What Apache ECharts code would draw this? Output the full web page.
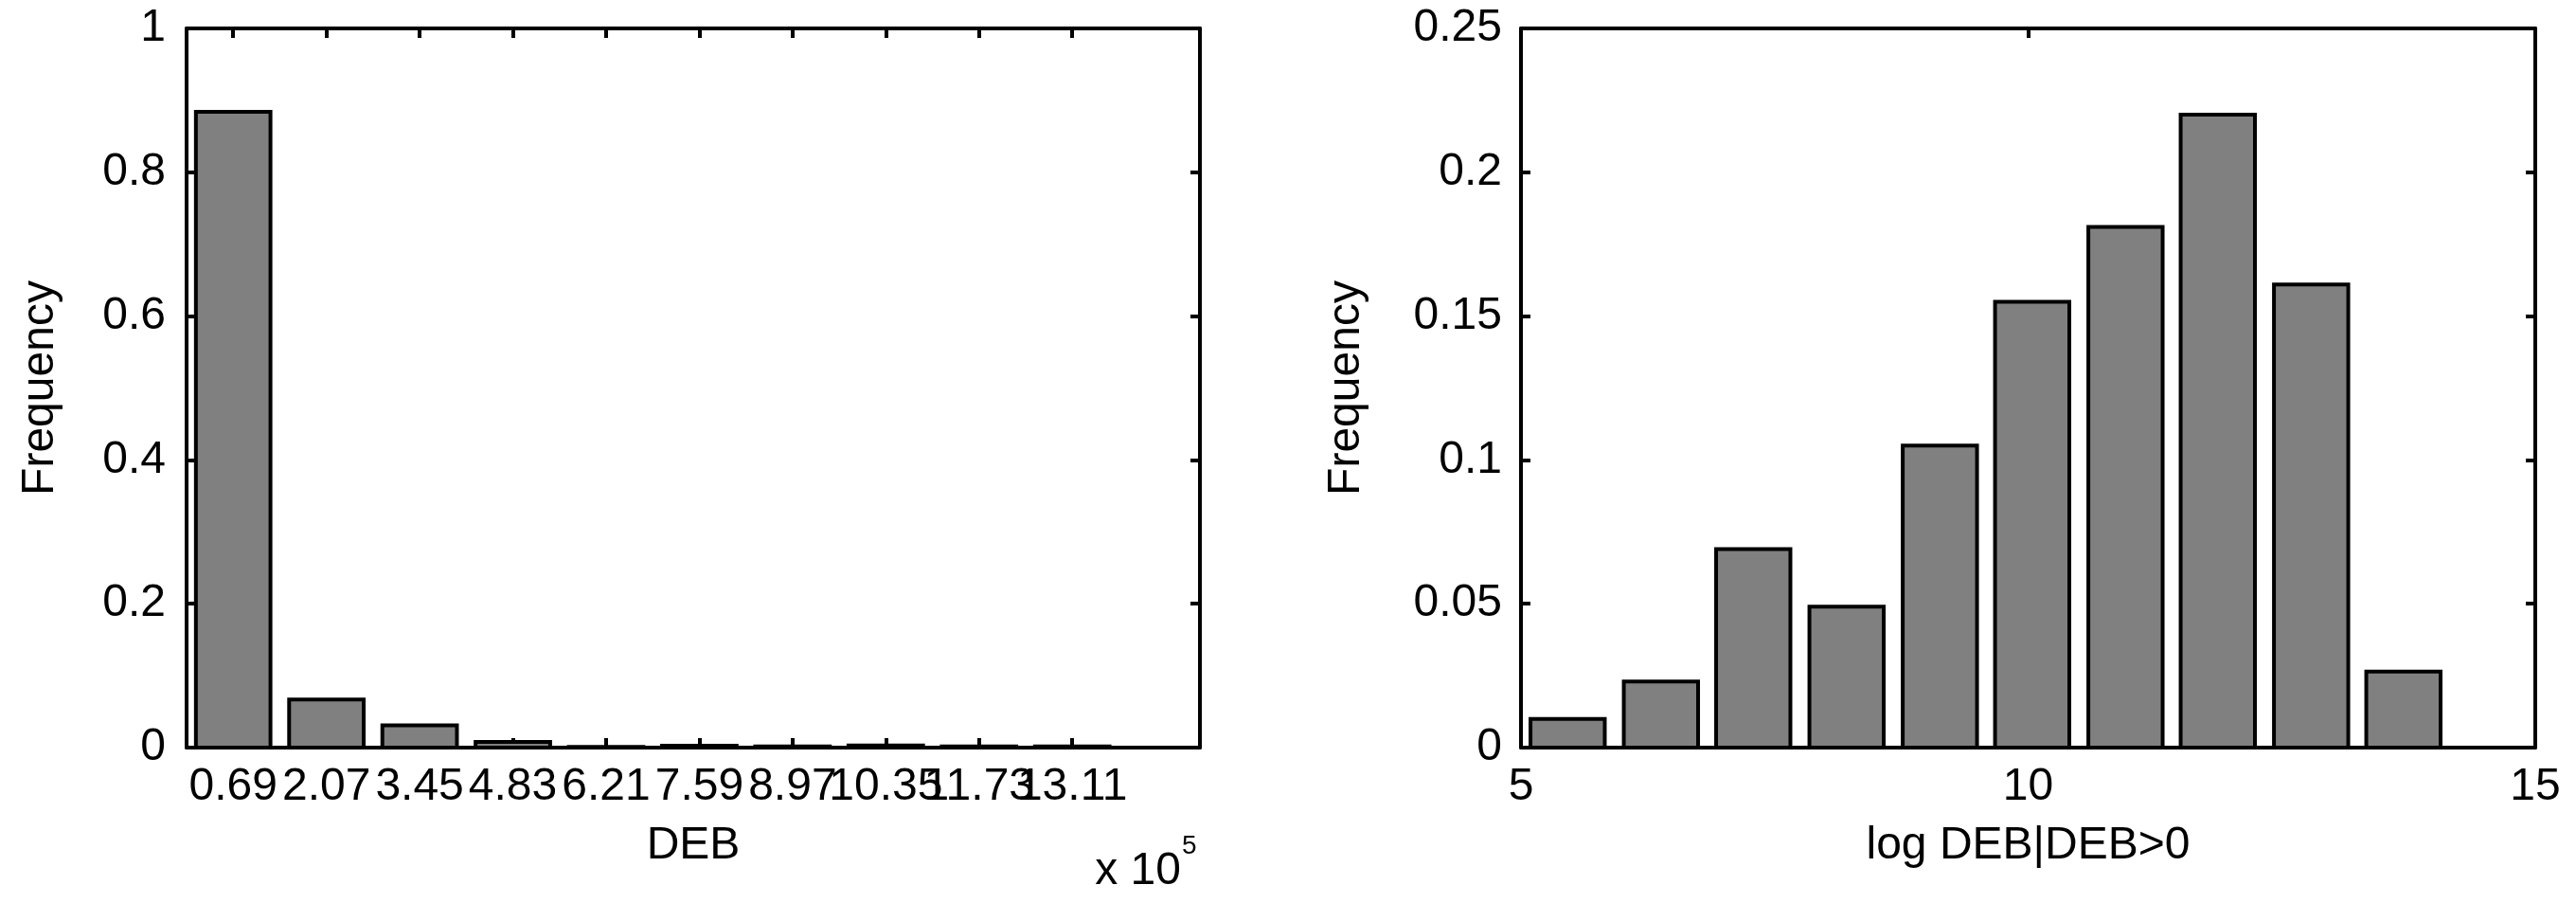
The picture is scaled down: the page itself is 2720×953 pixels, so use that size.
<!DOCTYPE html>
<html>
<head>
<meta charset="utf-8">
<script src="https://cdn.jsdelivr.net/npm/echarts@6/dist/echarts.min.js"></script>
<style>
html,body{margin:0;padding:0;background:#ffffff;}
#c{width:2720px;height:953px;}
</style>
</head>
<body>
<div id="c"></div>
<script>
// ---- data ----
const debCenters = [0.69, 2.07, 3.45, 4.83, 6.21, 7.59, 8.97, 10.35, 11.73, 13.11];
const debTickLabels = ['0.69', '2.07', '3.45', '4.83', '6.21', '7.59', '8.97', '10.35', '11.73', '13.11'];
const debFreq = [0.884, 0.067, 0.031, 0.008, 0.001, 0.0025, 0.0015, 0.003, 0.0015, 0.0015];

const logCenters = [5.46, 6.38, 7.29, 8.21, 9.13, 10.04, 10.96, 11.87, 12.79, 13.70];
const logFreq = [0.010, 0.023, 0.069, 0.049, 0.105, 0.155, 0.181, 0.220, 0.161, 0.0264];

const leftXRange = [0, 15];
const rightXRange = [5, 15];
const leftYRange = [0, 1];
const rightYRange = [0, 0.25];

const leftXName = 'DEB';
const rightXName = 'log DEB|DEB>0';
const yName = 'Frequency';
const expBase = 'x 10';
const expPower = '5';

// ---- styles ----
const FONT = '"Liberation Sans", Helvetica, Arial, sans-serif';
const FS = 48;
const LW = 4;
const BAR_RATIO = 0.8;

function barData(centers, vals) {
  const step = centers.length > 1 ? (centers[centers.length - 1] - centers[0]) / (centers.length - 1) : 1;
  return centers.map((c, i) => [c, vals[i], step * BAR_RATIO]);
}

function renderBar(params, api) {
  const x = api.value(0), y = api.value(1), w = api.value(2);
  const p0 = api.coord([x - w / 2, y]);
  const p1 = api.coord([x + w / 2, 0]);
  return {
    type: 'rect',
    shape: { x: p0[0], y: p0[1], width: p1[0] - p0[0], height: p1[1] - p0[1] },
    style: { fill: '#808080', stroke: '#000000', lineWidth: LW }
  };
}

function debLabel(v) {
  let best = 0;
  debCenters.forEach((c, i) => { if (Math.abs(c - v) < Math.abs(debCenters[best] - v)) best = i; });
  return debTickLabels[best];
}

// alternate labels split over two coincident axes so all (overlapping) labels are kept
const debEven = debCenters.filter((c, i) => i % 2 === 0);
const debOdd = debCenters.filter((c, i) => i % 2 === 1);

const axisLineStyle = { show: true, onZero: false, lineStyle: { color: '#000', width: LW } };
const tickStyle = { show: true, inside: true, length: 10, lineStyle: { color: '#000', width: LW } };
const labelStyle = { color: '#000', fontFamily: FONT, fontSize: FS, hideOverlap: false, showMinLabel: true, showMaxLabel: true };
const nameStyle = { color: '#000', fontFamily: FONT, fontSize: FS };

const chart = echarts.init(document.getElementById('c'), null, { renderer: 'canvas' });

const option = {
  backgroundColor: '#ffffff',
  animation: false,
  grid: [
    { left: 197, top: 30, width: 1070, height: 759, containLabel: false },
    { left: 1606, top: 30, width: 1071, height: 759, containLabel: false }
  ],
  xAxis: [
    {
      type: 'value', gridIndex: 0, position: 'bottom',
      min: leftXRange[0], max: leftXRange[1],
      axisLine: axisLineStyle,
      axisTick: Object.assign({}, tickStyle, { customValues: debCenters }),
      axisLabel: Object.assign({}, labelStyle, { margin: 18, customValues: debEven, formatter: debLabel }),
      splitLine: { show: false },
      name: leftXName, nameLocation: 'middle', nameGap: 80, nameTextStyle: nameStyle
    },
    {
      type: 'value', gridIndex: 0, position: 'top',
      min: leftXRange[0], max: leftXRange[1],
      axisLine: axisLineStyle,
      axisTick: Object.assign({}, tickStyle, { customValues: debCenters }),
      axisLabel: { show: false },
      splitLine: { show: false }
    },
    {
      type: 'value', gridIndex: 1, position: 'bottom',
      min: rightXRange[0], max: rightXRange[1], interval: 5,
      axisLine: axisLineStyle,
      axisTick: tickStyle,
      axisLabel: Object.assign({}, labelStyle, { margin: 18 }),
      splitLine: { show: false },
      name: rightXName, nameLocation: 'middle', nameGap: 80, nameTextStyle: nameStyle
    },
    {
      type: 'value', gridIndex: 1, position: 'top',
      min: rightXRange[0], max: rightXRange[1], interval: 5,
      axisLine: axisLineStyle,
      axisTick: tickStyle,
      axisLabel: { show: false },
      splitLine: { show: false }
    },
    {
      type: 'value', gridIndex: 0, position: 'bottom', offset: 0,
      min: leftXRange[0], max: leftXRange[1],
      axisLine: { show: false, onZero: false },
      axisTick: { show: false },
      axisLabel: Object.assign({}, labelStyle, { margin: 18, customValues: debOdd, formatter: debLabel }),
      splitLine: { show: false }
    }
  ],
  yAxis: [
    {
      type: 'value', gridIndex: 0, position: 'left',
      min: leftYRange[0], max: leftYRange[1], interval: 0.2,
      axisLine: axisLineStyle, axisTick: tickStyle,
      axisLabel: Object.assign({}, labelStyle, { margin: 22 }),
      splitLine: { show: false },
      name: yName, nameLocation: 'middle', nameGap: 130, nameRotate: 90, nameTextStyle: nameStyle
    },
    {
      type: 'value', gridIndex: 0, position: 'right',
      min: leftYRange[0], max: leftYRange[1], interval: 0.2,
      axisLine: axisLineStyle, axisTick: tickStyle,
      axisLabel: { show: false }, splitLine: { show: false }
    },
    {
      type: 'value', gridIndex: 1, position: 'left',
      min: rightYRange[0], max: rightYRange[1], interval: 0.05,
      axisLine: axisLineStyle, axisTick: tickStyle,
      axisLabel: Object.assign({}, labelStyle, { margin: 20 }),
      splitLine: { show: false },
      name: yName, nameLocation: 'middle', nameGap: 160, nameRotate: 90, nameTextStyle: nameStyle
    },
    {
      type: 'value', gridIndex: 1, position: 'right',
      min: rightYRange[0], max: rightYRange[1], interval: 0.05,
      axisLine: axisLineStyle, axisTick: tickStyle,
      axisLabel: { show: false }, splitLine: { show: false }
    }
  ],
  series: [
    {
      type: 'custom', xAxisIndex: 0, yAxisIndex: 0,
      data: barData(debCenters, debFreq),
      renderItem: renderBar, z: 1
    },
    {
      type: 'custom', xAxisIndex: 2, yAxisIndex: 2,
      data: barData(logCenters, logFreq),
      renderItem: renderBar, z: 1
    }
  ]
};

chart.setOption(option);

// exponent annotation anchored to the right end of the left x axis
const xr = chart.convertToPixel({ xAxisIndex: 0 }, leftXRange[1]);
const y0 = chart.convertToPixel({ yAxisIndex: 0 }, leftYRange[0]);
chart.setOption({
  graphic: [
    {
      type: 'text', x: xr - 20, y: y0 + 131,
      style: { text: expBase, font: FS + 'px ' + FONT, fill: '#000', align: 'right', verticalAlign: 'middle' }
    },
    {
      type: 'text', x: xr - 19, y: y0 + 104,
      style: { text: expPower, font: '28px ' + FONT, fill: '#000', align: 'left', verticalAlign: 'middle' }
    }
  ]
});
</script>
</body>
</html>
